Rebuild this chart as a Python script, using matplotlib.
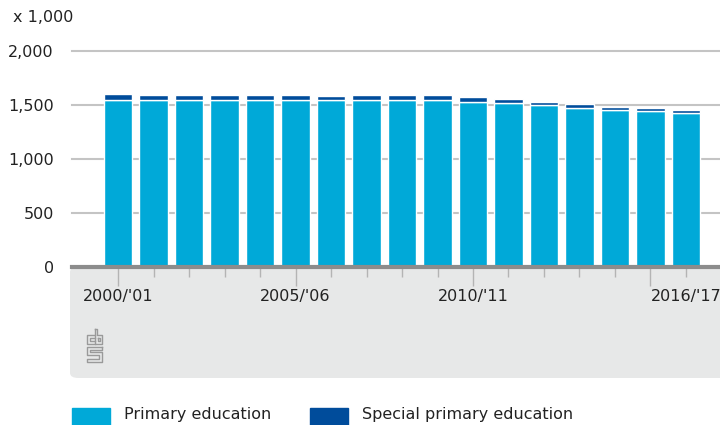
import matplotlib.pyplot as plt
from matplotlib.patches import FancyBboxPatch, Rectangle
from matplotlib.lines import Line2D

plt.rcParams['font.family'] = ['Liberation Sans Narrow', 'DejaVu Sans']

# Pupils in primary education, x 1,000
years = ["2000/'01", "2001/'02", "2002/'03", "2003/'04", "2004/'05", "2005/'06",
         "2006/'07", "2007/'08", "2008/'09", "2009/'10", "2010/'11", "2011/'12",
         "2012/'13", "2013/'14", "2014/'15", "2015/'16", "2016/'17"]
primary = [1542, 1548, 1548, 1542, 1548, 1548, 1548, 1548, 1548, 1548,
           1530, 1517, 1502, 1473, 1458, 1442, 1423]
special = [62, 45, 45, 54, 45, 45, 38, 40, 40, 40, 40, 38, 28, 38, 24, 29, 33]
yticks = [0, 500, 1000, 1500, 2000]
ytick_labels = ["0", "500", "1,000", "1,500", "2,000"]

c_primary = '#00a9d8'
c_special = '#004c9b'
W, H = 720, 425


def fx(px):
    return px / W


def fy(py):
    return 1 - py / H


fig = plt.figure(figsize=(7.2, 4.25), dpi=100)

# grey panel under the axis
panel = FancyBboxPatch((fx(70), fy(378)), fx(720) - fx(70) + 0.02, fy(267) - fy(378),
                       boxstyle="round,pad=0,rounding_size=0.012",
                       transform=fig.transFigure, facecolor='#e7e8e8',
                       edgecolor='none', zorder=-1)
fig.patches.append(panel)

ax = fig.add_axes([fx(72), fy(267), 1 - fx(72), fy(51) - fy(267)])
ax.set_facecolor('none')
x = list(range(len(years)))
ax.bar(x, primary, width=0.8, color=c_primary, edgecolor='white', linewidth=1, zorder=2)
ax.bar(x, special, width=0.8, bottom=primary, color=c_special, edgecolor='white',
       linewidth=1, zorder=2)

ax.set_xlim(-1.3, 16.96)
ax.set_ylim(0, 2000)
ax.set_yticks(yticks)
ax.set_yticklabels(ytick_labels, fontsize=11.5, color='#222222')
ax.tick_params(axis='y', length=0, pad=13)
for t in yticks[1:]:
    ax.axhline(t, color='#c4c4c4', linewidth=1.5, zorder=1, clip_on=False)
fig.text(fx(13), fy(18), "x 1,000", fontsize=11.5, color='#222222',
         ha='left', va='center')
for s in ['top', 'right', 'left']:
    ax.spines[s].set_visible(False)
ax.spines['bottom'].set_color('#8c8c8c')
ax.spines['bottom'].set_linewidth(3)
ax.spines['bottom'].set_zorder(3)

ax.set_xticks([0, 5, 10, 15])
ax.set_xticklabels([])
ax.set_xticks(x, minor=True)
ax.tick_params(axis='x', which='major', length=14, width=1, color='#b4b4b4', pad=0)
ax.tick_params(axis='x', which='minor', length=7, width=1, color='#b4b4b4')
for i in [0, 5, 10, 16]:
    ax.text(i, -0.1, years[i], transform=ax.get_xaxis_transform(), ha='center',
            va='top', fontsize=11.5, color='#222222', clip_on=False)

# cbs logo (rough)
lg = '#9a9a9a'
logo = [
    [(95, 335), (87, 335), (87, 344), (95, 344)],
    [(95, 338), (90, 338), (90, 341), (95, 341)],
    [(95, 329), (95, 344), (102, 344), (102, 335), (97, 335), (97, 329), (95, 329)],
    [(98, 338), (100, 338), (100, 341), (98, 341), (98, 338)],
    [(102, 347), (87, 347), (87, 355), (99, 355), (99, 359), (87, 359), (87, 362),
     (102, 362), (102, 352), (90, 352), (90, 350), (102, 350), (102, 347)],
]
for pts in logo:
    fig.lines.append(Line2D([fx(p[0]) for p in pts], [fy(p[1]) for p in pts],
                            transform=fig.transFigure, color=lg, linewidth=1))

# legend
fig.patches.append(Rectangle((fx(72), fy(430)), fx(38), fy(408) - fy(430),
                             transform=fig.transFigure, color=c_primary))
fig.text(fx(124), fy(407), "Primary education", fontsize=11.5, color='#222222',
         va='top', ha='left')
fig.patches.append(Rectangle((fx(310), fy(430)), fx(38), fy(408) - fy(430),
                             transform=fig.transFigure, color=c_special))
fig.text(fx(362), fy(407), "Special primary education", fontsize=11.5, color='#222222',
         va='top', ha='left')

fig.savefig('out.png', dpi=100)
